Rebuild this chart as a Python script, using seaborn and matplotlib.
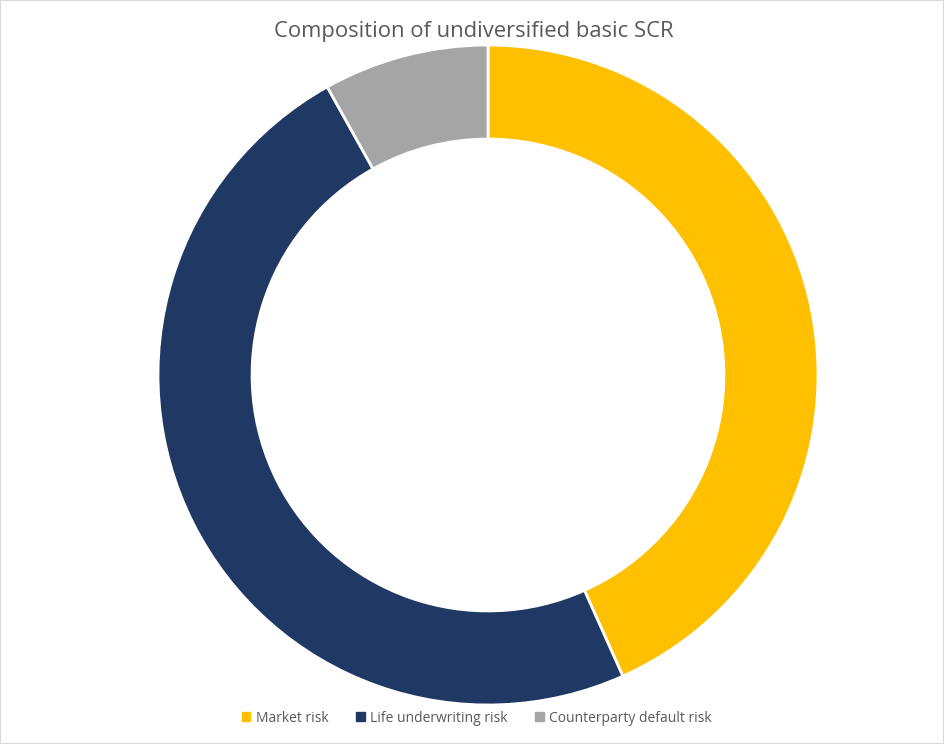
import matplotlib
matplotlib.use("Agg")
import matplotlib.pyplot as plt
import matplotlib.patches as mpatches
import seaborn as sns

categories = ["Market risk", "Life underwriting risk", "Counterparty default risk"]
values = [43.3, 48.6, 8.1]
colors = ["#FFC000", "#203864", "#A5A5A5"]

sns.set_theme(style="white")
plt.rcParams['font.family'] = ['Open Sans', 'DejaVu Sans']

fig = plt.figure(figsize=(9.44, 7.44), dpi=100)
ax = fig.add_axes([158/944, 39/744, 660/944, 660/744])
palette = sns.color_palette(colors)
ax.pie(values, colors=palette, startangle=90, counterclock=False, radius=1,
       wedgeprops=dict(width=0.285, edgecolor="white", linewidth=2))
ax.set_xlim(-1, 1)
ax.set_ylim(-1, 1)
ax.set_aspect("equal")
ax.axis("off")

fig.text(0.502, 1 - 31/744, "Composition of undiversified basic SCR", ha="center", va="center",
         fontsize=15.8, color="#595959")

handles = [mpatches.Patch(color=c, label=l) for c, l in zip(colors, categories)]
fig.legend(handles=handles, loc="center", bbox_to_anchor=(477/944, 1 - 718/744), ncol=3,
           frameon=False, fontsize=10, handlelength=0.6, handleheight=0.6, handletextpad=0.4,
           columnspacing=2.0, labelcolor="#595959")

fig.patches.append(mpatches.Rectangle((0, 0), 1, 1, transform=fig.transFigure, fill=False,
                                      edgecolor="#D9D9D9", linewidth=1.5))
fig.savefig("out.png", dpi=100)
